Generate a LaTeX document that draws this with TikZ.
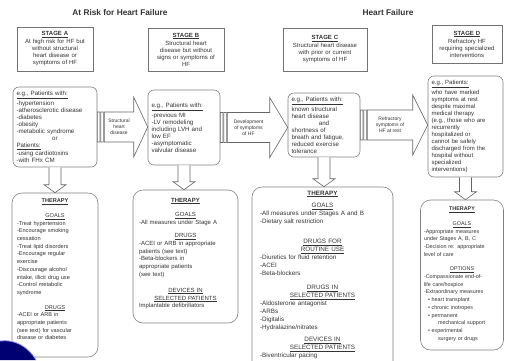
\documentclass[tikz,border=0pt]{standalone}
\usepackage{fontspec}
\setmainfont{Liberation Sans}
\usetikzlibrary{calc}

% centred headings inside left aligned boxes
\newcommand{\hd}[1]{\makebox[\hsize]{\underline{#1}}}
\newcommand{\hdb}[1]{\makebox[\hsize]{\textbf{\underline{#1}}}}
\newcommand{\ctr}[1]{\makebox[\hsize]{#1}}
\newcommand{\fsz}[2]{\fontsize{#1}{#2}\selectfont}

% striped block arrow: left node, right node, head length, label
\newcommand{\bigarrow}[4]{%
  \draw[blockarr] let \p1=(#1.east), \p2=(#2.west) in
    (\x1,\y1+15pt) rectangle (\x1+2.5pt,\y1-15pt)
    (\x1+3.5pt,\y1+15pt) rectangle (\x1+6pt,\y1-15pt)
    (\x1+7pt,\y1+15pt) -- (\x2-#3,\y1+15pt) -- (\x2-#3,\y1+30pt) -- (\x2,\y1)
      -- (\x2-#3,\y1-30pt) -- (\x2-#3,\y1-15pt) -- (\x1+7pt,\y1-15pt) -- cycle
    ({(\x1+7pt+\x2-#3)/2},\y1) node[arrlabel] (lab#1) {#4};}

% hollow arrow going down from one box to the next
\newcommand{\downblock}[2]{%
  \draw[blockarr] let \p1=(#1.south), \p2=(#2.north) in
    (\x1-6pt,\y1) -- (\x1-6pt,\y2+8pt) -- (\x1-11pt,\y2+8pt) -- (\x1,\y2)
    -- (\x1+11pt,\y2+8pt) -- (\x1+6pt,\y2+8pt) -- (\x1+6pt,\y1);}

\begin{document}
\begin{tikzpicture}[x=1pt,y=-1pt,
  title/.style={font=\fsz{8.3}{9}\bfseries, text=black!80},
  stagebox/.style={draw=black!55, line width=1pt, inner sep=0pt, align=center,
    font=\fsz{6}{7}, text=black!80},
  patbox/.style={draw=black!50, line width=0.6pt, rounded corners=6pt, inner sep=0pt,
    align=left, font=\fsz{6.2}{7}, text=black!80},
  therbox/.style={draw=black!50, line width=0.6pt, rounded corners=10pt},
  thertext/.style={anchor=north, inner sep=0pt, align=left, text=black!80},
  blockarr/.style={draw=black!60, fill=white, line width=0.6pt},
  arrlabel/.style={align=center, inner sep=0pt, font=\fsz{5}{6.2}, text=black!80}]
\useasboundingbox (0,0) rectangle (505,360);
\clip (0,0) rectangle (505,360);

%headings
\node[title] (risk) at (120,13) {At Risk for Heart Failure};
\node[title] (hf) at (388,13) {Heart Failure};

%stages
\node[stagebox, minimum width=76pt, minimum height=44pt, text width=72pt] (stA) at (55,49)
  {\textbf{\underline{STAGE A}}\\[1pt]At high risk for HF but\\without structural\\heart disease or\\symptoms of HF};
\node[stagebox, minimum width=76pt, minimum height=43pt, text width=72pt] (stB) at (186,49.5)
  {\textbf{\underline{STAGE B}}\\[1pt]Structural heart\\disease but without\\signs or symptoms of\\HF};
\node[stagebox, minimum width=84pt, minimum height=43pt, text width=80pt] (stC) at (325,49.5)
  {\textbf{\underline{STAGE C}}\\[1pt]Structural heart disease\\with prior or current\\symptoms of HF};
\node[stagebox, minimum width=70pt, minimum height=38pt, text width=66pt] (stD) at (467,44)
  {\textbf{\underline{STAGE D}}\\[1pt]Refractory HF\\requiring specialized\\interventions};

%patients
\node[patbox, minimum width=84pt, minimum height=80pt, text width=77pt] (patA) at (55,127)
  {\underline{e.g., Patients with:}\\[1pt]-hypertension\\-atherosclerotic disease\\-diabetes\\-obesity\\
   -metabolic syndrome\\\ctr{or}\\\underline{Patients:}\\[1pt]-using cardiotoxins\\-with FHx CM};
\node[patbox, minimum width=72pt, minimum height=75pt, text width=65pt] (patB) at (184,127.5)
  {\underline{e.g., Patients with:}\\[1pt]-previous MI\\-LV remodeling\\including LVH and\\low EF\\
   -asymptomatic\\valvular disease};
\node[patbox, minimum width=72pt, minimum height=64pt, text width=65pt] (patC) at (324,125)
  {\underline{e.g., Patients with:}\\[1pt]known structural\\heart disease\\\ctr{and}\\shortness of\\
   breath and fatigue,\\reduced exercise\\tolerance};
\node[patbox, minimum width=75pt, minimum height=101pt, text width=68pt, font=\fsz{6}{7}] (patD) at (465.5,126.5)
  {\underline{e.g., Patients:}\\[1pt]who have marked\\symptoms at rest\\despite maximal\\medical therapy\\
   (e.g., those who are\\recurrently\\hospitalized or\\cannot be safely\\discharged from the\\
   hospital without\\specialized\\interventions)};

%arrows between stages
\bigarrow{patA}{patB}{14pt}{Structural\\heart\\disease}
\bigarrow{patB}{patC}{18pt}{Development\\of symptoms\\of HF}
\bigarrow{patC}{patD}{15pt}{Refractory\\symptoms of\\HF at rest}

%therapy boxes
\node[therbox, minimum width=86pt, minimum height=164pt] (thA) at (55,275) {};
\node[therbox, minimum width=105pt, minimum height=133pt] (thB) at (185.5,256.5) {};
\node[therbox, minimum width=141pt, minimum height=193pt] (thC) at (322.5,283.5) {};
\node[therbox, minimum width=83pt, minimum height=150pt] (thD) at (462,275) {};

\downblock{patA}{thA}
\downblock{patB}{thB}
\downblock{patC}{thC}
\downblock{patD}{thD}

\node[thertext, text width=76pt, font=\fsz{5.6}{7.7}] (txA) at ([yshift=-6pt]thA.north)
  {\hdb{THERAPY}\\[7pt]
   \hd{GOALS}\\
   -Treat hypertension\\-Encourage smoking\\cessation\\-Treat lipid disorders\\
   -Encourage regular\\exercise\\-Discourage alcohol\\intake, illicit drug use\\
   -Control metabolic\\syndrome\\[7pt]
   \hd{DRUGS}\\
   -ACEI or ARB in\\appropriate patients\\(see text) for vascular\\disease or diabetes};
\node[thertext, text width=93pt, font=\fsz{6}{7.8}] (txB) at ([yshift=-8pt]thB.north)
  {\hdb{THERAPY}\\[7pt]
   \hd{GOALS}\\
   -All measures under Stage A\\[5pt]
   \hd{DRUGS}\\
   -ACEI or ARB in appropriate\\patients (see text)\\-Beta-blockers in\\
   appropriate patients\\(see text)\\[8pt]
   \hd{DEVICES IN}\\\hd{SELECTED PATIENTS}\\
   Implantable defibrillators};
\node[thertext, text width=125pt, font=\fsz{6.3}{8}] (txC) at ([yshift=-4pt]thC.north)
  {\hdb{THERAPY}\\[4pt]
   \hd{GOALS}\\
   -All measures under Stages A and B\\-Dietary salt restriction\\[12pt]
   \hd{DRUGS FOR}\\\hd{ROUTINE USE}\\
   -Diuretics for fluid retention\\-ACEI\\-Beta-blockers\\[6pt]
   \hd{DRUGS IN}\\\hd{SELECTED PATIENTS}\\
   -Aldosterone antagonist\\-ARBs\\-Digitalis\\-Hydralazine/nitrates\\[4pt]
   \hd{DEVICES IN}\\\hd{SELECTED PATIENTS}\\
   -Biventricular pacing};
\node[thertext, text width=76pt, font=\fsz{5.4}{7.7}] (txD) at ([yshift=-7pt]thD.north)
  {\hdb{THERAPY}\\[7pt]
   \hd{GOALS}\\
   -Appropriate measures\\under Stages A, B, C\\-Decision re: appropriate\\
   level of care\\[7pt]
   \hd{OPTIONS}\\
   -Compassionate end-of-\\life care/hospice\\-Extraordinary measures\\
   \hspace*{4pt}• heart transplant\\\hspace*{4pt}• chronic inotropes\\
   \hspace*{4pt}• permanent\\\hspace*{14pt}mechanical support\\
   \hspace*{4pt}• experimental\\\hspace*{14pt}surgery or drugs};

%corner decoration
\fill[blue!45!black] (0,341) .. controls (14,339) and (28,346) .. (36,360) -- (0,360) -- cycle;
\draw[blue!40!white, line width=0.8pt] (0,341) .. controls (14,339) and (28,346) .. (36,360);
\end{tikzpicture}
\end{document}
